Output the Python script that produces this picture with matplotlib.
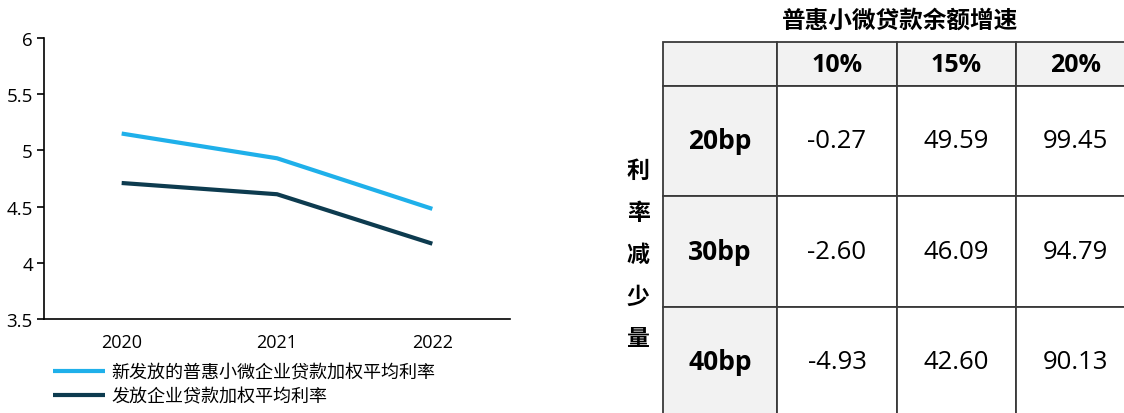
import matplotlib.pyplot as plt
from matplotlib.patches import Rectangle

plt.rcParams['font.family'] = ['Open Sans', 'Noto Sans CJK SC', 'DejaVu Sans']

# line chart data
years = ['2020', '2021', '2022']
rate_inclusive = [5.15, 4.93, 4.48]
rate_enterprise = [4.71, 4.61, 4.17]
series_names = ['新发放的普惠小微企业贷款加权平均利率', '发放企业贷款加权平均利率']

# sensitivity table data
table_title = '普惠小微贷款余额增速'
growth_cols = ['10%', '15%', '20%']
cut_rows = ['20bp', '30bp', '40bp']
table_values = [
    [-0.27, 49.59, 99.45],
    [-2.60, 46.09, 94.79],
    [-4.93, 42.60, 90.13],
]
side_label = '利率减少量'

W, H = 1124, 414
fig = plt.figure(figsize=(W / 100, H / 100), dpi=100)

# ---- left: line chart ----
ax = fig.add_axes([44 / W, 1 - 320 / H, 466 / W, 281 / H])
x = range(len(years))
ax.plot(x, rate_inclusive, color='#1fb0ea', lw=3, solid_capstyle='butt', label=series_names[0])
ax.plot(x, rate_enterprise, color='#0d3b4f', lw=3, solid_capstyle='butt', label=series_names[1])
ax.set_xlim(-0.5, len(years) - 0.5)
ax.set_ylim(3.5, 6)
ax.set_yticks([3.5, 4, 4.5, 5, 5.5, 6])
ax.set_yticklabels(['3.5', '4', '4.5', '5', '5.5', '6'])
ax.set_xticks(list(x))
ax.set_xticklabels(years)
for s in ['top', 'right']:
    ax.spines[s].set_visible(False)
for s in ['left', 'bottom']:
    ax.spines[s].set_linewidth(1.2)
ax.tick_params(axis='y', length=5, width=1.2, labelsize=13.5, pad=3)
ax.tick_params(axis='x', length=0, labelsize=13, pad=10)
ax.legend(loc='upper left', bbox_to_anchor=(53 / W, 1 - 364 / H),
          bbox_transform=fig.transFigure, frameon=False, fontsize=13,
          handlelength=2.9, handletextpad=0.35, labelspacing=0.35, borderpad=0,
          borderaxespad=0)

# ---- right: table drawn in pixel coordinates ----
tx = fig.add_axes([0, 0, 1, 1])
tx.set_xlim(0, W)
tx.set_ylim(H, 0)
tx.axis('off')

col_edges = [663, 777, 897, 1016, 1135]
row_edges = [43, 87, 197, 308, 418]
line_c = '#3a3a3a'
shade = '#f2f2f2'

n_rows = len(cut_rows) + 1
n_cols = len(growth_cols) + 1
for r in range(n_rows):
    for c in range(n_cols):
        x0, x1 = col_edges[c], col_edges[c + 1]
        y0, y1 = row_edges[r], row_edges[r + 1]
        fc = shade if (r == 0 or c == 0) else 'white'
        tx.add_patch(Rectangle((x0, y0), x1 - x0, y1 - y0, facecolor=fc,
                               edgecolor=line_c, lw=1.3, clip_on=False))
        cx, cy = (x0 + x1) / 2, (y0 + y1) / 2
        if r == 0 and c > 0:
            tx.text(cx, cy, growth_cols[c - 1], ha='center', va='center',
                    fontsize=18, fontweight='bold')
        elif r > 0 and c == 0:
            tx.text(cx, cy, cut_rows[r - 1], ha='center', va='center',
                    fontsize=19, fontweight='bold')
        elif r > 0 and c > 0:
            tx.text(cx, cy, f'{table_values[r - 1][c - 1]:.2f}', ha='center',
                    va='center', fontsize=18.5)

tx.text(900, 22, table_title, ha='center', va='center', fontsize=17,
        fontweight='bold')

for i, ch in enumerate(side_label):
    tx.text(638, 172 + i * 42, ch, ha='center', va='center', fontsize=16.5,
            fontweight='bold')

fig.savefig('out.png', dpi=100)
